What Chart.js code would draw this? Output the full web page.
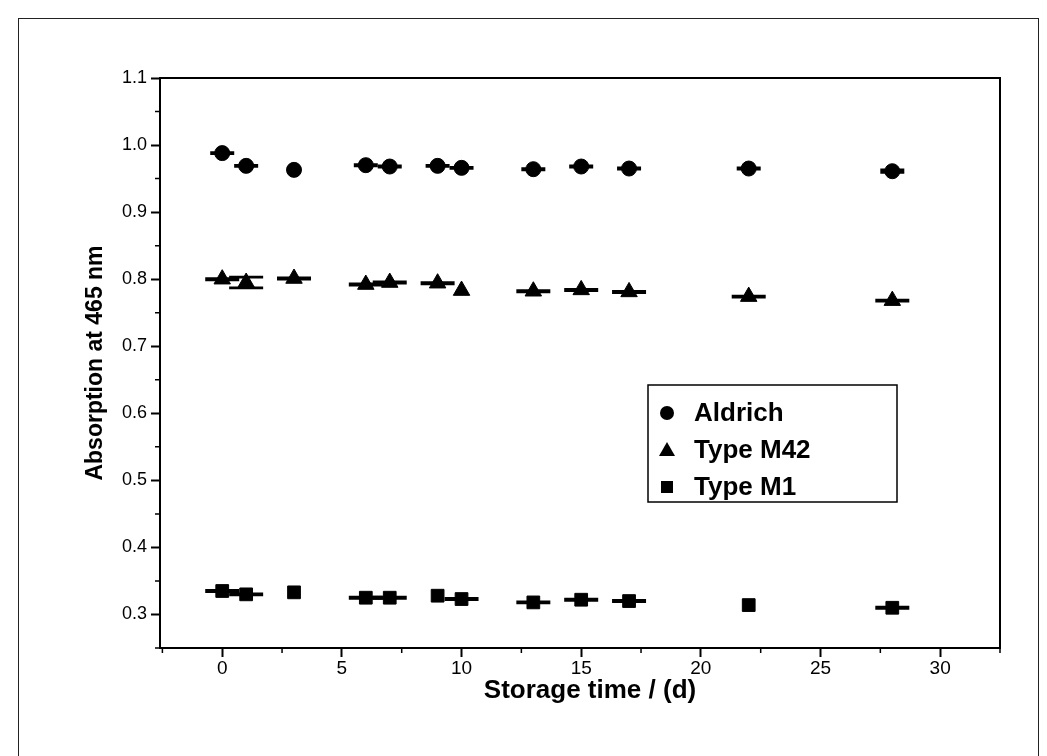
<!DOCTYPE html>
<html>
<head>
<meta charset="utf-8">
<script src="https://cdn.jsdelivr.net/npm/chart.js@4.4.1/dist/chart.umd.min.js"></script>
<style>
  html, body { margin: 0; padding: 0; background: #fff; overflow: hidden; }
  #wrap { position: relative; width: 1047px; height: 756px; }
  #frame { position: absolute; left: 18px; top: 18px; width: 1021px; height: 780px; border: 1.5px solid #222; box-sizing: border-box; }
  #chart { position: absolute; left: 0; top: 0; }
</style>
</head>
<body>
<div id="wrap">
  <div id="frame"></div>
  <canvas id="chart" width="1047" height="756"></canvas>
</div>
<script>
// storage days and absorbance at 465 nm for each pigment
const days = [0, 1, 3, 6, 7, 9, 10, 13, 15, 17, 22, 28];
const aldrich = [0.988, 0.969, 0.963, 0.970, 0.968, 0.969, 0.966, 0.964, 0.968, 0.965, 0.965, 0.961];
const typeM42 = [0.800, 0.795, 0.801, 0.792, 0.795, 0.794, 0.783, 0.782, 0.784, 0.781, 0.774, 0.768];
const typeM1 = [0.335, 0.330, 0.333, 0.325, 0.325, 0.328, 0.323, 0.318, 0.322, 0.320, 0.314, 0.310];

// error bar half-heights (null = no bar)
const aldrichErr = [0.001, 0.001, null, 0.001, 0.001, 0.001, 0.001, 0.001, 0.001, 0.001, 0.001, 0.002];
const typeM42Err = [0.001, 0.008, 0.001, 0.001, 0.001, 0.001, null, 0.001, 0.001, 0.001, 0.001, 0.001];
const typeM1Err = [0.001, 0.001, null, 0.001, 0.001, null, 0.001, 0.001, 0.001, 0.001, null, 0.001];

const xTicks = [0, 5, 10, 15, 20, 25, 30];
const xMinor = [-2.5, 2.5, 7.5, 12.5, 17.5, 22.5, 27.5, 32.5];
const yTicks = [0.3, 0.4, 0.5, 0.6, 0.7, 0.8, 0.9, 1.0, 1.1];
const yMinor = [0.25, 0.35, 0.45, 0.55, 0.65, 0.75, 0.85, 0.95, 1.05];

const seriesNames = ['Aldrich', 'Type M42', 'Type M1'];

const sansFamily = '"Liberation Sans", Arial, sans-serif';

const toPoints = vals => vals.map((v, i) => ({ x: days[i], y: v }));

const errorBars = {
    id: 'errorBars',
    beforeDatasetsDraw(chart) {
        const ctx = chart.ctx;
        const y = chart.scales.y;
        const errs = [aldrichErr, typeM42Err, typeM1Err];
        const caps = [12, 17, 17];
        ctx.save();
        ctx.strokeStyle = '#000';
        ctx.lineWidth = 2.6;
        chart.data.datasets.forEach((ds, di) => {
            const meta = chart.getDatasetMeta(di);
            meta.data.forEach((pt, i) => {
                const e = errs[di][i];
                if (e === null) return;
                const v = ds.data[i].y;
                const top = y.getPixelForValue(v + e);
                const bot = y.getPixelForValue(v - e);
                const w = caps[di];
                ctx.beginPath();
                ctx.moveTo(pt.x - w, top); ctx.lineTo(pt.x + w, top);
                ctx.moveTo(pt.x - w, bot); ctx.lineTo(pt.x + w, bot);
                ctx.moveTo(pt.x, top); ctx.lineTo(pt.x, bot);
                ctx.stroke();
            });
        });
        ctx.restore();
    }
};

const frameAndTicks = {
    id: 'frameAndTicks',
    afterDraw(chart) {
        const ctx = chart.ctx;
        const a = chart.chartArea;
        const xs = chart.scales.x, ys = chart.scales.y;
        ctx.save();
        ctx.strokeStyle = '#000';
        ctx.lineWidth = 2;
        ctx.beginPath();
        ctx.moveTo(a.left, a.top); ctx.lineTo(a.right, a.top); ctx.lineTo(a.right, a.bottom);
        ctx.stroke();
        // minor ticks
        ctx.lineWidth = 1.5;
        ctx.beginPath();
        xMinor.forEach(v => {
            const px = xs.getPixelForValue(v);
            ctx.moveTo(px, a.bottom); ctx.lineTo(px, a.bottom + 5);
        });
        yMinor.forEach(v => {
            const py = ys.getPixelForValue(v);
            ctx.moveTo(a.left, py); ctx.lineTo(a.left - 5, py);
        });
        ctx.stroke();

        // axis titles
        ctx.fillStyle = '#000';
        ctx.textAlign = 'center';
        ctx.textBaseline = 'middle';
        ctx.font = 'bold 26px ' + sansFamily;
        ctx.fillText('Storage time / (d)', 590, 691);
        ctx.save();
        ctx.translate(96, (a.top + a.bottom) / 2);
        ctx.rotate(-Math.PI / 2);
        ctx.font = 'bold 23px ' + sansFamily;
        ctx.fillText('Absorption at 465 nm', 0, 0);
        ctx.restore();

        // legend
        const lx = 648, ly = 385, lw = 249, lh = 117;
        ctx.lineWidth = 1.5;
        ctx.strokeRect(lx, ly, lw, lh);
        ctx.font = 'bold 26px ' + sansFamily;
        ctx.textAlign = 'left';
        seriesNames.forEach((name, i) => {
            const cy = ly + 28 + i * 37;
            const mx = lx + 19;
            ctx.beginPath();
            if (i === 0) {
                ctx.arc(mx, cy, 7, 0, Math.PI * 2);
            } else if (i === 1) {
                ctx.moveTo(mx, cy - 8); ctx.lineTo(mx + 8, cy + 6); ctx.lineTo(mx - 8, cy + 6); ctx.closePath();
            } else {
                ctx.rect(mx - 6, cy - 6, 12, 12);
            }
            ctx.fill();
            ctx.fillText(name, lx + 46, cy + 1);
        });
        ctx.restore();
    }
};

const ctx = document.getElementById('chart').getContext('2d');
const tickFontY = { family: sansFamily, size: 18 };
const tickFontX = { family: sansFamily, size: 19 };

new Chart(ctx, {
    type: 'scatter',
    data: {
        datasets: [{
            label: seriesNames[0],
            data: toPoints(aldrich),
            pointStyle: 'circle',
            pointRadius: 7.5,
            backgroundColor: '#000',
            borderColor: '#000'
        }, {
            label: seriesNames[1],
            data: toPoints(typeM42),
            pointStyle: 'triangle',
            pointRadius: 9.5,
            backgroundColor: '#000',
            borderColor: '#000'
        }, {
            label: seriesNames[2],
            data: toPoints(typeM1),
            pointStyle: 'rect',
            pointRadius: 9,
            backgroundColor: '#000',
            borderColor: '#000'
        }]
    },
    options: {
        responsive: false,
        animation: false,
        devicePixelRatio: 1,
        layout: { padding: { left: 0, top: 78, right: 47, bottom: 0 } },
        plugins: {
            legend: { display: false },
            tooltip: { enabled: false }
        },
        scales: {
            x: {
                type: 'linear',
                min: -2.6,
                max: 32.5,
                afterBuildTicks: scale => { scale.ticks = xTicks.map(v => ({ value: v })); },
                afterFit: scale => { scale.height = 108; },
                ticks: { color: '#000', font: tickFontX, padding: 0, maxRotation: 0 },
                grid: { drawOnChartArea: false, tickLength: 9, tickWidth: 2, tickColor: '#000' },
                border: { display: true, color: '#000', width: 2 }
            },
            y: {
                min: 0.25,
                max: 1.1,
                afterBuildTicks: scale => { scale.ticks = yTicks.map(v => ({ value: v })); },
                afterFit: scale => { scale.width = 160; },
                ticks: { color: '#000', font: tickFontY, padding: 4, callback: v => v.toFixed(1) },
                grid: { drawOnChartArea: false, tickLength: 9, tickWidth: 2, tickColor: '#000' },
                border: { display: true, color: '#000', width: 2 }
            }
        }
    },
    plugins: [errorBars, frameAndTicks]
});
</script>
</body>
</html>
